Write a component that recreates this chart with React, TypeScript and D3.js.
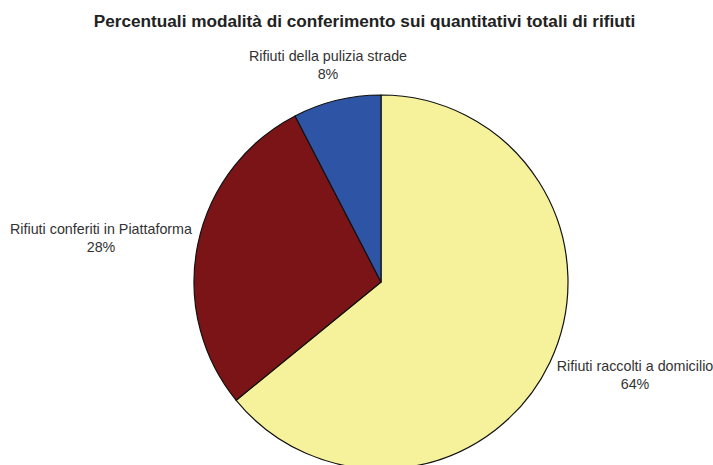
import React from "react";
import * as d3 from "d3";

const categories = ["Rifiuti raccolti a domicilio", "Rifiuti conferiti in Piattaforma", "Rifiuti della pulizia strade"];
const values = [64.1, 28.3, 7.6];
const pctLabels = ["64%", "28%", "8%"];
const colors = ["#F6F29B", "#7B1417", "#2E55A5"];
const labelPos: [number, number][] = [[635, 371], [101, 234], [328, 61]];

export default function App() {
  const W = 713, H = 465;
  const cx = 381, cy = 282, r = 187;
  const pie = d3.pie<number>().sort(null).value((d) => d)(values);
  const arc = d3.arc<d3.PieArcDatum<number>>().innerRadius(0).outerRadius(r);
  return (
    <svg width={W} height={H} style={{ position: "absolute", left: 0, top: 0 }} fontFamily="'Liberation Sans', Arial, sans-serif">
      <rect width={W} height={H} fill="#fff" />
      <text x={364.5} y={27} textAnchor="middle" fontSize={17.2} fontWeight="bold" fill="#222">
        Percentuali modalità di conferimento sui quantitativi totali di rifiuti
      </text>
      <g transform={`translate(${cx},${cy})`}>
        {pie.map((p, i) => (
          <path key={i} d={arc(p) || ""} fill={colors[i]} stroke="#111" strokeWidth={1.2} strokeLinejoin="round" />
        ))}
      </g>
      {categories.map((c, i) => (
        <text key={c} x={labelPos[i][0]} y={labelPos[i][1]} textAnchor="middle" fontSize={14.3} fill="#333">
          <tspan x={labelPos[i][0]} dy={0}>{c}</tspan>
          <tspan x={labelPos[i][0]} dy={17.5}>{pctLabels[i]}</tspan>
        </text>
      ))}
    </svg>
  );
}
